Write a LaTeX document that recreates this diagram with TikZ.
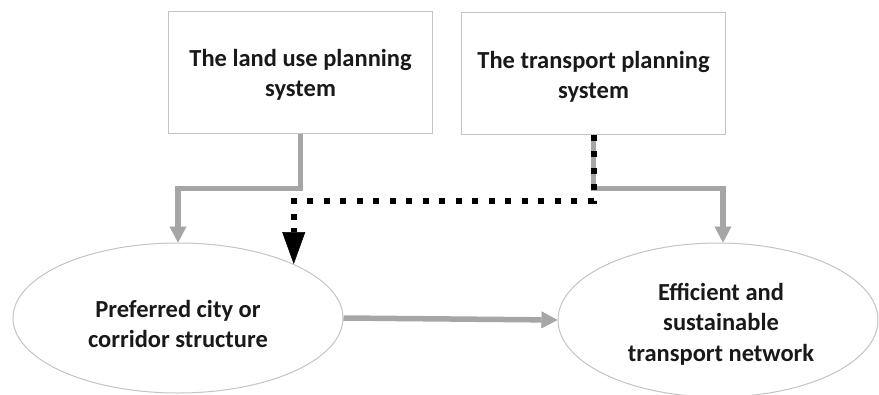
\documentclass[tikz,border=0pt]{standalone}
\usepackage{fontspec}
\setmainfont{Carlito}
\usetikzlibrary{arrows.meta,shapes.geometric,calc}
\definecolor{linegray}{HTML}{A6A6A6}
\definecolor{edgegray}{HTML}{C4C4C4}
\begin{document}
\begin{tikzpicture}[x=1pt,y=-1pt,
  txt/.style={font=\fontsize{24.5}{29.5}\selectfont\bfseries, text=black!90, align=center, inner sep=0pt},
  boxnode/.style={draw=edgegray, line width=1pt, fill=white, minimum width=264pt, minimum height=122pt, inner sep=0pt},
  ellnode/.style={ellipse, draw=edgegray, line width=1pt, fill=white, inner sep=0pt},
  grayarrow/.style={draw=linegray, line width=5.5pt, -{Triangle[width=17pt,length=16pt,line width=0.5pt,fill=linegray]}},
  dotline/.style={draw=black, line width=6pt, dash pattern=on 6pt off 10.5pt},
  blackhead/.style={draw=black, line width=6pt, -{Triangle[width=23pt,length=32pt,line width=0.5pt,fill=black]}}
]
\useasboundingbox (0,0) rectangle (879,394);
\node[boxnode] (b1) at (300.5,72) {};
\node[txt] (b1t) at (300.5,75) {The land use planning\\system};
\node[boxnode] (b2) at (593.5,73) {};
\node[txt] (b2t) at (593.5,77) {The transport planning\\system};
\node[ellnode, minimum width=330pt, minimum height=150pt] (e1) at (178,318) {};
\node[txt] (e1t) at (178,324) {Preferred city or\\corridor structure};
\node[ellnode, minimum width=320pt, minimum height=154pt] (e2) at (718,320) {};
\node[txt, font=\fontsize{24.5}{30.5}\selectfont\bfseries] (e2t) at (721,324) {Efficient and\\sustainable\\transport network};
\draw[grayarrow] (b1.south) -- ++(0,55) -| (e1.north);
\draw[grayarrow] (b2.south) -- ++(0,54) -| ([xshift=5pt]e2.north);
\draw[grayarrow] (e1.east) -- (e2.west);
\coordinate (dt) at ($(e1.25)+(0,-36)$);
\draw[dotline] (b2.south) -- ++(0,66) -| (dt);
\draw[blackhead] (dt) -- (e1.25);
\end{tikzpicture}
\end{document}
